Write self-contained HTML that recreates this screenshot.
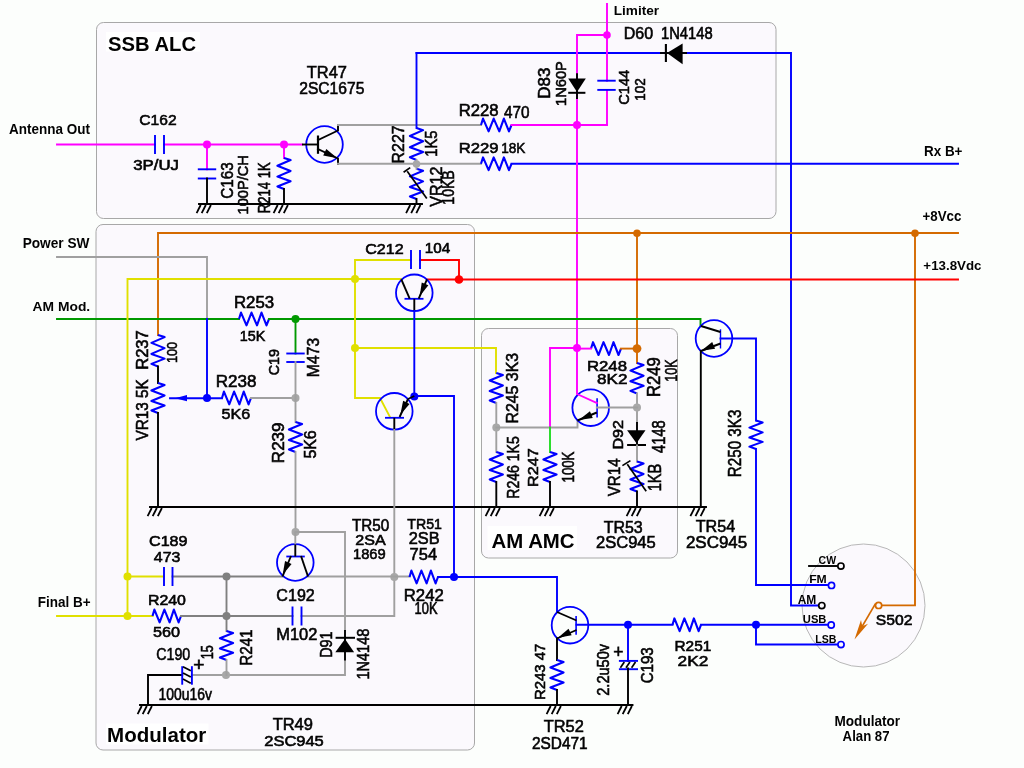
<!DOCTYPE html>
<html><head><meta charset="utf-8"><title>Modulator schematic</title>
<style>html,body{margin:0;padding:0;background:#fcfefc;overflow:hidden}svg{display:block}text{font-family:"Liberation Sans",sans-serif}</style></head>
<body><svg width="1024" height="768" viewBox="0 0 1024 768">
<rect width="1024" height="768" fill="#fcfefc"/>
<rect x="96.5" y="22.5" width="679.5" height="196" rx="7" fill="#fbf9fd" stroke="#a8a8a8" stroke-width="1"/>
<rect x="96" y="224.5" width="378.5" height="525.5" rx="7" fill="#fbf9fd" stroke="#a8a8a8" stroke-width="1"/>
<rect x="481.5" y="328.5" width="196" height="229.5" rx="7" fill="#fbf9fd" stroke="#a8a8a8" stroke-width="1"/>
<circle cx="863.5" cy="605.5" r="61.5" fill="#fbf9fd" stroke="#b8b8b8" stroke-width="1"/>
<rect x="106" y="32" width="94" height="19.5" fill="#ffffff"/>
<rect x="487.5" y="526" width="89.5" height="24" fill="#ffffff"/>
<rect x="106" y="723.5" width="102.5" height="21" fill="#ffffff"/>
<g><polyline points="57,144.5 155,144.5" fill="none" stroke="#ff00ff" stroke-width="1.9" stroke-linejoin="miter" stroke-linecap="square"/>
<polyline points="164,144.5 302,144.5" fill="none" stroke="#ff00ff" stroke-width="1.9" stroke-linejoin="miter" stroke-linecap="square"/>
<line x1="155" y1="135.0" x2="155" y2="154.0" stroke="#0000ff" stroke-width="1.9" stroke-linecap="butt"/>
<line x1="164" y1="135.0" x2="164" y2="154.0" stroke="#0000ff" stroke-width="1.9" stroke-linecap="butt"/>
<polyline points="207,144.5 207,169.3" fill="none" stroke="#ff00ff" stroke-width="1.9" stroke-linejoin="miter" stroke-linecap="square"/>
<line x1="197.8" y1="169.3" x2="216.2" y2="169.3" stroke="#0000ff" stroke-width="1.9" stroke-linecap="butt"/>
<line x1="197.8" y1="178.5" x2="216.2" y2="178.5" stroke="#0000ff" stroke-width="1.9" stroke-linecap="butt"/>
<polyline points="207,178.5 207,204" fill="none" stroke="#000000" stroke-width="1.9" stroke-linejoin="miter" stroke-linecap="square"/>
<polyline points="284,144.5 284,158" fill="none" stroke="#ff00ff" stroke-width="1.9" stroke-linejoin="miter" stroke-linecap="square"/>
<polyline points="284.00,158.00 290.60,160.07 277.40,165.75 290.60,170.92 277.40,176.60 290.60,181.25 277.40,186.42 284.00,189.00" fill="none" stroke="#0000ff" stroke-width="2.1" stroke-linejoin="round" stroke-linecap="butt"/>
<polyline points="284,189 284,204" fill="none" stroke="#000000" stroke-width="1.9" stroke-linejoin="miter" stroke-linecap="square"/>
<circle cx="207" cy="144.5" r="4" fill="#ff00ff"/>
<circle cx="284" cy="144.5" r="4" fill="#ff00ff"/>
<polyline points="199,204 422,204" fill="none" stroke="#000000" stroke-width="1.9" stroke-linejoin="miter" stroke-linecap="square"/>
<line x1="196.6" y1="213.2" x2="200.7" y2="205" stroke="#000000" stroke-width="1.8" stroke-linecap="butt"/>
<line x1="201.7" y1="213.2" x2="205.79999999999998" y2="205" stroke="#000000" stroke-width="1.8" stroke-linecap="butt"/>
<line x1="206.79999999999998" y1="213.2" x2="210.89999999999998" y2="205" stroke="#000000" stroke-width="1.8" stroke-linecap="butt"/>
<line x1="273.6" y1="213.2" x2="277.7" y2="205" stroke="#000000" stroke-width="1.8" stroke-linecap="butt"/>
<line x1="278.70000000000005" y1="213.2" x2="282.8" y2="205" stroke="#000000" stroke-width="1.8" stroke-linecap="butt"/>
<line x1="283.8" y1="213.2" x2="287.9" y2="205" stroke="#000000" stroke-width="1.8" stroke-linecap="butt"/>
<line x1="406.1" y1="213.2" x2="410.2" y2="205" stroke="#000000" stroke-width="1.8" stroke-linecap="butt"/>
<line x1="411.20000000000005" y1="213.2" x2="415.3" y2="205" stroke="#000000" stroke-width="1.8" stroke-linecap="butt"/>
<line x1="416.3" y1="213.2" x2="420.4" y2="205" stroke="#000000" stroke-width="1.8" stroke-linecap="butt"/>
<circle cx="324.5" cy="144.5" r="18.3" fill="none" stroke="#0000ff" stroke-width="1.8"/>
<line x1="302" y1="144.5" x2="318" y2="144.5" stroke="#000000" stroke-width="1.9" stroke-linecap="butt"/>
<line x1="318" y1="135.5" x2="318" y2="153.8" stroke="#000000" stroke-width="2.2" stroke-linecap="butt"/>
<polyline points="318,140 338,130.5 338,125" fill="none" stroke="#000000" stroke-width="1.9" stroke-linejoin="miter" stroke-linecap="square"/>
<polyline points="318,149 338,158.5 338,163.8" fill="none" stroke="#000000" stroke-width="1.9" stroke-linejoin="miter" stroke-linecap="square"/>
<polygon points="337.4,158.215 323.2095104065941,155.4600036117194 326.29871947148575,148.95640558036854" fill="#000000"/>
<polyline points="338,125 481,125" fill="none" stroke="#a0a0a0" stroke-width="1.9" stroke-linejoin="miter" stroke-linecap="square"/>
<polyline points="338,163.8 481,163.8" fill="none" stroke="#a0a0a0" stroke-width="1.9" stroke-linejoin="miter" stroke-linecap="square"/>
<polyline points="481.00,125.00 483.03,118.60 488.62,131.40 493.71,118.60 499.30,131.40 503.88,118.60 508.96,131.40 511.50,125.00" fill="none" stroke="#0000ff" stroke-width="2.1" stroke-linejoin="round" stroke-linecap="butt"/>
<polyline points="481.00,163.80 483.03,157.40 488.62,170.20 493.71,157.40 499.30,170.20 503.88,157.40 508.96,170.20 511.50,163.80" fill="none" stroke="#0000ff" stroke-width="2.1" stroke-linejoin="round" stroke-linecap="butt"/>
<polyline points="511.5,125 607,125" fill="none" stroke="#ff00ff" stroke-width="1.9" stroke-linejoin="miter" stroke-linecap="square"/>
<polyline points="511.5,163.8 958,163.8" fill="none" stroke="#0000ff" stroke-width="1.9" stroke-linejoin="miter" stroke-linecap="square"/>
<polyline points="416.5,53 416.5,128" fill="none" stroke="#0000ff" stroke-width="1.9" stroke-linejoin="miter" stroke-linecap="square"/>
<polyline points="416.50,128.00 423.10,130.13 409.90,136.00 423.10,141.33 409.90,147.20 423.10,152.00 409.90,157.33 416.50,160.00" fill="none" stroke="#0000ff" stroke-width="2.1" stroke-linejoin="round" stroke-linecap="butt"/>
<polyline points="416.5,160 416.5,164" fill="none" stroke="#a0a0a0" stroke-width="1.9" stroke-linejoin="miter" stroke-linecap="square"/>
<polyline points="416.50,168.80 423.10,170.81 409.90,176.35 423.10,181.38 409.90,186.92 423.10,191.45 409.90,196.48 416.50,199.00" fill="none" stroke="#0000ff" stroke-width="2.1" stroke-linejoin="round" stroke-linecap="butt"/>
<polyline points="416.5,164 416.5,168.8" fill="none" stroke="#a0a0a0" stroke-width="1.9" stroke-linejoin="miter" stroke-linecap="square"/>
<polyline points="416.5,199 416.5,204" fill="none" stroke="#000000" stroke-width="1.9" stroke-linejoin="miter" stroke-linecap="square"/>
<line x1="426.8" y1="198.4" x2="407.2" y2="171.3" stroke="#000000" stroke-width="1.7" stroke-linecap="butt"/>
<line x1="403.6" y1="172.2" x2="410.2" y2="167.6" stroke="#000000" stroke-width="1.7" stroke-linecap="butt"/>
<circle cx="416.5" cy="164" r="3.8" fill="#a8a8a8"/>
<polyline points="416.5,53 791,53 791,605.5 818,605.5" fill="none" stroke="#0000ff" stroke-width="1.9" stroke-linejoin="miter" stroke-linecap="square"/>
<polygon points="667,53 682.6,43.6 682.6,64.2" fill="#000"/>
<line x1="665.9" y1="44" x2="665.9" y2="62" stroke="#000000" stroke-width="2.1" stroke-linecap="butt"/>
<line x1="660" y1="53" x2="687" y2="53" stroke="#000000" stroke-width="1.9" stroke-linecap="butt"/>
<polyline points="607,4 607,80.7" fill="none" stroke="#ff00ff" stroke-width="1.9" stroke-linejoin="miter" stroke-linecap="square"/>
<polyline points="607,89.9 607,125" fill="none" stroke="#ff00ff" stroke-width="1.9" stroke-linejoin="miter" stroke-linecap="square"/>
<line x1="597.3" y1="80.7" x2="615.7" y2="80.7" stroke="#0000ff" stroke-width="1.9" stroke-linecap="butt"/>
<line x1="597.3" y1="89.9" x2="615.7" y2="89.9" stroke="#0000ff" stroke-width="1.9" stroke-linecap="butt"/>
<polyline points="577,125 577,35 607,35" fill="none" stroke="#ff00ff" stroke-width="1.9" stroke-linejoin="miter" stroke-linecap="square"/>
<polyline points="577,125 577,348" fill="none" stroke="#ff00ff" stroke-width="1.9" stroke-linejoin="miter" stroke-linecap="square"/>
<circle cx="607" cy="35" r="3.8" fill="#ff00ff"/>
<circle cx="577" cy="125" r="4" fill="#ff00ff"/>
<line x1="577" y1="73.3" x2="577" y2="99" stroke="#000000" stroke-width="1.9" stroke-linecap="butt"/>
<polygon points="568.2,78.4 585.8,78.4 577,92" fill="#000"/>
<line x1="568.2" y1="92.8" x2="585.4" y2="92.8" stroke="#000000" stroke-width="2" stroke-linecap="butt"/>
<polyline points="158,335 158,233 958,233" fill="none" stroke="#d46a00" stroke-width="1.9" stroke-linejoin="miter" stroke-linecap="square"/>
<circle cx="915" cy="233.3" r="3.8" fill="#d46a00"/>
<circle cx="637" cy="233.3" r="3.8" fill="#d46a00"/>
<polyline points="915,233 915,605.4 881.7,605.4" fill="none" stroke="#d46a00" stroke-width="1.9" stroke-linejoin="miter" stroke-linecap="square"/>
<polyline points="637,233 637,363" fill="none" stroke="#d46a00" stroke-width="1.9" stroke-linejoin="miter" stroke-linecap="square"/>
<polyline points="427,279.5 958,279.5" fill="none" stroke="#ff0000" stroke-width="1.9" stroke-linejoin="miter" stroke-linecap="square"/>
<polyline points="420,260 459,260 459,279.5" fill="none" stroke="#ff0000" stroke-width="1.9" stroke-linejoin="miter" stroke-linecap="square"/>
<circle cx="459" cy="279.5" r="4.3" fill="#ff0000"/>
<polyline points="57,319 239,319" fill="none" stroke="#009900" stroke-width="1.9" stroke-linejoin="miter" stroke-linecap="square"/>
<polyline points="239.00,319.00 241.00,312.60 246.50,325.40 251.50,312.60 257.00,325.40 261.50,312.60 266.50,325.40 269.00,319.00" fill="none" stroke="#0000ff" stroke-width="2.1" stroke-linejoin="round" stroke-linecap="butt"/>
<polyline points="269,319 700.5,319 700.5,326" fill="none" stroke="#009900" stroke-width="1.9" stroke-linejoin="miter" stroke-linecap="square"/>
<circle cx="295.5" cy="319" r="4" fill="#009900"/>
<polyline points="295.5,319 295.5,353.5" fill="none" stroke="#009900" stroke-width="1.9" stroke-linejoin="miter" stroke-linecap="square"/>
<line x1="286.3" y1="353.5" x2="304.7" y2="353.5" stroke="#0000ff" stroke-width="1.9" stroke-linecap="butt"/>
<line x1="286.3" y1="362" x2="304.7" y2="362" stroke="#0000ff" stroke-width="1.9" stroke-linecap="butt"/>
<polyline points="57,257 207,257 207,319" fill="none" stroke="#a0a0a0" stroke-width="1.9" stroke-linejoin="miter" stroke-linecap="square"/>
<polyline points="57,616 152.5,616" fill="none" stroke="#e0e000" stroke-width="1.9" stroke-linejoin="miter" stroke-linecap="square"/>
<polyline points="127.5,616 127.5,279 401,279" fill="none" stroke="#e0e000" stroke-width="1.9" stroke-linejoin="miter" stroke-linecap="square"/>
<polyline points="127.5,576.5 164,576.5" fill="none" stroke="#e0e000" stroke-width="1.9" stroke-linejoin="miter" stroke-linecap="square"/>
<circle cx="127.5" cy="576.5" r="4" fill="#e0e000"/>
<circle cx="127.5" cy="616" r="4" fill="#e0e000"/>
<polyline points="411,260 355,260 355,398 380,398 390,417" fill="none" stroke="#e0e000" stroke-width="1.9" stroke-linejoin="miter" stroke-linecap="square"/>
<circle cx="355" cy="279" r="4" fill="#e0e000"/>
<circle cx="355" cy="348" r="4" fill="#e0e000"/>
<polyline points="355,348 496,348 496,373" fill="none" stroke="#e0e000" stroke-width="1.9" stroke-linejoin="miter" stroke-linecap="square"/>
<line x1="411" y1="250.0" x2="411" y2="269.0" stroke="#0000ff" stroke-width="1.9" stroke-linecap="butt"/>
<line x1="420" y1="250.0" x2="420" y2="269.0" stroke="#0000ff" stroke-width="1.9" stroke-linecap="butt"/>
<polyline points="158.00,335.00 164.60,337.10 151.40,342.88 164.60,348.12 151.40,353.90 164.60,358.62 151.40,363.88 158.00,366.50" fill="none" stroke="#0000ff" stroke-width="2.1" stroke-linejoin="round" stroke-linecap="butt"/>
<polyline points="158,366.5 158,383" fill="none" stroke="#000000" stroke-width="1.9" stroke-linejoin="miter" stroke-linecap="square"/>
<polyline points="158.00,383.00 164.60,385.00 151.40,390.50 164.60,395.50 151.40,401.00 164.60,405.50 151.40,410.50 158.00,413.00" fill="none" stroke="#0000ff" stroke-width="2.1" stroke-linejoin="round" stroke-linecap="butt"/>
<polyline points="158,413 158,507" fill="none" stroke="#000000" stroke-width="1.9" stroke-linejoin="miter" stroke-linecap="square"/>
<polyline points="207,319 207,398" fill="none" stroke="#0000ff" stroke-width="1.9" stroke-linejoin="miter" stroke-linecap="square"/>
<polyline points="170,398.2 222,398.2" fill="none" stroke="#0000ff" stroke-width="1.9" stroke-linejoin="miter" stroke-linecap="square"/>
<polygon points="175.0,398.2 187.0,395.09999999999997 187.0,401.3" fill="#0000ff"/>
<circle cx="207" cy="398" r="4" fill="#0000ff"/>
<polyline points="222.00,398.00 223.93,391.60 229.25,404.40 234.08,391.60 239.40,404.40 243.75,391.60 248.58,404.40 251.00,398.00" fill="none" stroke="#0000ff" stroke-width="2.1" stroke-linejoin="round" stroke-linecap="butt"/>
<polyline points="251,398 295.5,398" fill="none" stroke="#a0a0a0" stroke-width="1.9" stroke-linejoin="miter" stroke-linecap="square"/>
<circle cx="295.5" cy="398" r="4" fill="#a8a8a8"/>
<polyline points="295.5,362 295.5,422" fill="none" stroke="#a0a0a0" stroke-width="1.9" stroke-linejoin="miter" stroke-linecap="square"/>
<polyline points="295.50,422.00 302.10,424.00 288.90,429.50 302.10,434.50 288.90,440.00 302.10,444.50 288.90,449.50 295.50,452.00" fill="none" stroke="#0000ff" stroke-width="2.1" stroke-linejoin="round" stroke-linecap="butt"/>
<polyline points="295.5,452 295.5,532" fill="none" stroke="#a0a0a0" stroke-width="1.9" stroke-linejoin="miter" stroke-linecap="square"/>
<circle cx="295.5" cy="532" r="4" fill="#a8a8a8"/>
<polyline points="295.5,532 345,532 345,630" fill="none" stroke="#a0a0a0" stroke-width="1.9" stroke-linejoin="miter" stroke-linecap="square"/>
<polyline points="345,660.5 345,675 191.9,675" fill="none" stroke="#a0a0a0" stroke-width="1.9" stroke-linejoin="miter" stroke-linecap="square"/>
<circle cx="226" cy="675" r="4" fill="#a8a8a8"/>
<polyline points="150,507 706,507" fill="none" stroke="#000000" stroke-width="1.9" stroke-linejoin="miter" stroke-linecap="square"/>
<line x1="147.6" y1="516.2" x2="151.7" y2="508" stroke="#000000" stroke-width="1.8" stroke-linecap="butt"/>
<line x1="152.7" y1="516.2" x2="156.79999999999998" y2="508" stroke="#000000" stroke-width="1.8" stroke-linecap="butt"/>
<line x1="157.79999999999998" y1="516.2" x2="161.89999999999998" y2="508" stroke="#000000" stroke-width="1.8" stroke-linecap="butt"/>
<line x1="485.6" y1="516.2" x2="489.7" y2="508" stroke="#000000" stroke-width="1.8" stroke-linecap="butt"/>
<line x1="490.70000000000005" y1="516.2" x2="494.8" y2="508" stroke="#000000" stroke-width="1.8" stroke-linecap="butt"/>
<line x1="495.8" y1="516.2" x2="499.9" y2="508" stroke="#000000" stroke-width="1.8" stroke-linecap="butt"/>
<line x1="539.6" y1="516.2" x2="543.7" y2="508" stroke="#000000" stroke-width="1.8" stroke-linecap="butt"/>
<line x1="544.7" y1="516.2" x2="548.8000000000001" y2="508" stroke="#000000" stroke-width="1.8" stroke-linecap="butt"/>
<line x1="549.8000000000001" y1="516.2" x2="553.9000000000001" y2="508" stroke="#000000" stroke-width="1.8" stroke-linecap="butt"/>
<line x1="626.6" y1="516.2" x2="630.7" y2="508" stroke="#000000" stroke-width="1.8" stroke-linecap="butt"/>
<line x1="631.7" y1="516.2" x2="635.8000000000001" y2="508" stroke="#000000" stroke-width="1.8" stroke-linecap="butt"/>
<line x1="636.8000000000001" y1="516.2" x2="640.9000000000001" y2="508" stroke="#000000" stroke-width="1.8" stroke-linecap="butt"/>
<line x1="690.4" y1="516.2" x2="694.5" y2="508" stroke="#000000" stroke-width="1.8" stroke-linecap="butt"/>
<line x1="695.5" y1="516.2" x2="699.6" y2="508" stroke="#000000" stroke-width="1.8" stroke-linecap="butt"/>
<line x1="700.6" y1="516.2" x2="704.7" y2="508" stroke="#000000" stroke-width="1.8" stroke-linecap="butt"/>
<circle cx="414.3" cy="292.8" r="18.3" fill="none" stroke="#0000ff" stroke-width="1.8"/>
<line x1="404.5" y1="298.8" x2="423.5" y2="298.8" stroke="#0000ff" stroke-width="1.8" stroke-linecap="butt"/>
<line x1="409.7" y1="298.6" x2="401.3" y2="279.4" stroke="#000000" stroke-width="1.9" stroke-linecap="butt"/>
<line x1="418.7" y1="298.6" x2="427" y2="279.4" stroke="#000000" stroke-width="1.9" stroke-linecap="butt"/>
<polygon points="419.69599999999997,296.296 421.74837620197115,282.4758063716321 428.357285732847,285.33278288758356" fill="#000000"/>
<line x1="414.3" y1="298.8" x2="414.3" y2="311" stroke="#000000" stroke-width="1.9" stroke-linecap="butt"/>
<polyline points="414.3,311 414.3,396 454,396 454,577" fill="none" stroke="#0000ff" stroke-width="1.9" stroke-linejoin="miter" stroke-linecap="square"/>
<circle cx="414.3" cy="396.5" r="4" fill="#0000ff"/>
<circle cx="394.3" cy="411.3" r="18.3" fill="none" stroke="#0000ff" stroke-width="1.8"/>
<line x1="385" y1="417.8" x2="404" y2="417.8" stroke="#0000ff" stroke-width="1.8" stroke-linecap="butt"/>
<line x1="399.6" y1="417" x2="408" y2="399" stroke="#000000" stroke-width="1.9" stroke-linecap="butt"/>
<line x1="408" y1="399" x2="414.3" y2="396" stroke="#000000" stroke-width="1.9" stroke-linecap="butt"/>
<polygon points="400.44,414.57 403.09814111898953,400.8534302469044 409.5750201835696,403.9982732609202" fill="#000000"/>
<line x1="394.3" y1="417.8" x2="394.3" y2="430" stroke="#000000" stroke-width="1.9" stroke-linecap="butt"/>
<polyline points="394.3,430 394.3,616 301.5,616" fill="none" stroke="#a0a0a0" stroke-width="1.9" stroke-linejoin="miter" stroke-linecap="square"/>
<circle cx="394.3" cy="577" r="4" fill="#a8a8a8"/>
<polyline points="172.5,576.5 282.5,576.5" fill="none" stroke="#808080" stroke-width="1.9" stroke-linejoin="miter" stroke-linecap="square"/>
<polyline points="308,576.5 409.5,576.5" fill="none" stroke="#a0a0a0" stroke-width="1.9" stroke-linejoin="miter" stroke-linecap="square"/>
<line x1="164" y1="567.0" x2="164" y2="586.0" stroke="#0000ff" stroke-width="1.9" stroke-linecap="butt"/>
<line x1="172.5" y1="567.0" x2="172.5" y2="586.0" stroke="#0000ff" stroke-width="1.9" stroke-linecap="butt"/>
<polyline points="152.50,616.00 154.40,609.60 159.62,622.40 164.38,609.60 169.60,622.40 173.88,609.60 178.62,622.40 181.00,616.00" fill="none" stroke="#0000ff" stroke-width="2.1" stroke-linejoin="round" stroke-linecap="butt"/>
<polyline points="181,616 292.5,616" fill="none" stroke="#808080" stroke-width="1.9" stroke-linejoin="miter" stroke-linecap="square"/>
<line x1="292.5" y1="606.5" x2="292.5" y2="625.5" stroke="#0000ff" stroke-width="1.9" stroke-linecap="butt"/>
<line x1="301.5" y1="606.5" x2="301.5" y2="625.5" stroke="#0000ff" stroke-width="1.9" stroke-linecap="butt"/>
<circle cx="226.5" cy="576.5" r="4" fill="#808080"/>
<circle cx="226.5" cy="616" r="4" fill="#808080"/>
<polyline points="226.5,576.5 226.5,631" fill="none" stroke="#808080" stroke-width="1.9" stroke-linejoin="miter" stroke-linecap="square"/>
<polyline points="226.50,631.00 233.10,632.93 219.90,638.25 233.10,643.08 219.90,648.40 233.10,652.75 219.90,657.58 226.50,660.00" fill="none" stroke="#0000ff" stroke-width="2.1" stroke-linejoin="round" stroke-linecap="butt"/>
<polyline points="226.5,660 226.5,675" fill="none" stroke="#a0a0a0" stroke-width="1.9" stroke-linejoin="miter" stroke-linecap="square"/>
<circle cx="295.3" cy="562.5" r="18.3" fill="none" stroke="#0000ff" stroke-width="1.8"/>
<line x1="286.3" y1="556.5" x2="304.8" y2="556.5" stroke="#0000ff" stroke-width="1.8" stroke-linecap="butt"/>
<line x1="291" y1="556" x2="282.5" y2="576.5" stroke="#000000" stroke-width="1.9" stroke-linecap="butt"/>
<polygon points="282.652,574.8539999999999 285.040631611532,561.0879388703815 291.5779391799352,564.1051577481062" fill="#000000"/>
<line x1="301" y1="556" x2="308" y2="576.5" stroke="#000000" stroke-width="1.9" stroke-linecap="butt"/>
<line x1="295.3" y1="532" x2="295.3" y2="544.5" stroke="#a0a0a0" stroke-width="1.9" stroke-linecap="butt"/>
<line x1="295.3" y1="544.5" x2="295.3" y2="556.5" stroke="#000000" stroke-width="1.9" stroke-linecap="butt"/>
<polygon points="335.3,652.3 354.1,652.3 345,639.1" fill="#000"/>
<line x1="335.6" y1="637.8" x2="355" y2="637.8" stroke="#000000" stroke-width="2" stroke-linecap="butt"/>
<line x1="345" y1="630" x2="345" y2="660.5" stroke="#000000" stroke-width="1.9" stroke-linecap="butt"/>
<polyline points="409.50,577.00 411.40,570.60 416.62,583.40 421.38,570.60 426.60,583.40 430.88,570.60 435.62,583.40 438.00,577.00" fill="none" stroke="#0000ff" stroke-width="2.1" stroke-linejoin="round" stroke-linecap="butt"/>
<polyline points="438,577 557,577 557,611" fill="none" stroke="#0000ff" stroke-width="1.9" stroke-linejoin="miter" stroke-linecap="square"/>
<circle cx="454" cy="577" r="4" fill="#0000ff"/>
<polyline points="148,705 148,675 182.2,675" fill="none" stroke="#000000" stroke-width="1.9" stroke-linejoin="miter" stroke-linecap="square"/>
<line x1="182.2" y1="666.2" x2="182.2" y2="684.7" stroke="#0000ff" stroke-width="1.9" stroke-linecap="butt"/>
<line x1="191.9" y1="666.2" x2="191.9" y2="684.7" stroke="#0000ff" stroke-width="1.9" stroke-linecap="butt"/>
<line x1="183" y1="666.7" x2="190.8" y2="670.8" stroke="#000000" stroke-width="1.7" stroke-linecap="butt"/>
<line x1="183" y1="672.9000000000001" x2="190.8" y2="677.0" stroke="#000000" stroke-width="1.7" stroke-linecap="butt"/>
<line x1="183" y1="679.1" x2="190.8" y2="683.1999999999999" stroke="#000000" stroke-width="1.7" stroke-linecap="butt"/>
<polyline points="140,705 632.5,705" fill="none" stroke="#000000" stroke-width="1.9" stroke-linejoin="miter" stroke-linecap="square"/>
<line x1="137.6" y1="714.2" x2="141.7" y2="706" stroke="#000000" stroke-width="1.8" stroke-linecap="butt"/>
<line x1="142.7" y1="714.2" x2="146.79999999999998" y2="706" stroke="#000000" stroke-width="1.8" stroke-linecap="butt"/>
<line x1="147.79999999999998" y1="714.2" x2="151.89999999999998" y2="706" stroke="#000000" stroke-width="1.8" stroke-linecap="butt"/>
<line x1="546.6" y1="714.2" x2="550.7" y2="706" stroke="#000000" stroke-width="1.8" stroke-linecap="butt"/>
<line x1="551.7" y1="714.2" x2="555.8000000000001" y2="706" stroke="#000000" stroke-width="1.8" stroke-linecap="butt"/>
<line x1="556.8000000000001" y1="714.2" x2="560.9000000000001" y2="706" stroke="#000000" stroke-width="1.8" stroke-linecap="butt"/>
<line x1="617.6" y1="714.2" x2="621.7" y2="706" stroke="#000000" stroke-width="1.8" stroke-linecap="butt"/>
<line x1="622.7" y1="714.2" x2="626.8000000000001" y2="706" stroke="#000000" stroke-width="1.8" stroke-linecap="butt"/>
<line x1="627.8000000000001" y1="714.2" x2="631.9000000000001" y2="706" stroke="#000000" stroke-width="1.8" stroke-linecap="butt"/>
<polyline points="496.30,373.00 502.90,375.00 489.70,380.50 502.90,385.50 489.70,391.00 502.90,395.50 489.70,400.50 496.30,403.00" fill="none" stroke="#0000ff" stroke-width="2.1" stroke-linejoin="round" stroke-linecap="butt"/>
<polyline points="496.3,403 496.3,452" fill="none" stroke="#a0a0a0" stroke-width="1.9" stroke-linejoin="miter" stroke-linecap="square"/>
<circle cx="496.3" cy="427.5" r="4" fill="#a8a8a8"/>
<polyline points="496.30,452.00 502.90,454.00 489.70,459.50 502.90,464.50 489.70,470.00 502.90,474.50 489.70,479.50 496.30,482.00" fill="none" stroke="#0000ff" stroke-width="2.1" stroke-linejoin="round" stroke-linecap="butt"/>
<polyline points="496.3,482 496.3,507" fill="none" stroke="#000000" stroke-width="1.9" stroke-linejoin="miter" stroke-linecap="square"/>
<polyline points="496.3,427.5 577.5,427.5 577.5,420.5" fill="none" stroke="#a0a0a0" stroke-width="1.9" stroke-linejoin="miter" stroke-linecap="square"/>
<polyline points="577,348 550,348 550,427.5" fill="none" stroke="#ff00ff" stroke-width="1.9" stroke-linejoin="miter" stroke-linecap="square"/>
<polyline points="550,427.5 550,452" fill="none" stroke="#22dd22" stroke-width="1.9" stroke-linejoin="miter" stroke-linecap="square"/>
<polyline points="550.00,452.00 556.60,454.00 543.40,459.50 556.60,464.50 543.40,470.00 556.60,474.50 543.40,479.50 550.00,482.00" fill="none" stroke="#0000ff" stroke-width="2.1" stroke-linejoin="round" stroke-linecap="butt"/>
<polyline points="550,482 550,507" fill="none" stroke="#000000" stroke-width="1.9" stroke-linejoin="miter" stroke-linecap="square"/>
<circle cx="577" cy="348" r="4" fill="#ff00ff"/>
<polyline points="591.00,348.60 593.00,342.20 598.50,355.00 603.50,342.20 609.00,355.00 613.50,342.20 618.50,355.00 621.00,348.60" fill="none" stroke="#0000ff" stroke-width="2.1" stroke-linejoin="round" stroke-linecap="butt"/>
<polyline points="577,348.6 591,348.6" fill="none" stroke="#ff00ff" stroke-width="1.9" stroke-linejoin="miter" stroke-linecap="square"/>
<polyline points="621,348.6 637,348.6" fill="none" stroke="#d46a00" stroke-width="1.9" stroke-linejoin="miter" stroke-linecap="square"/>
<circle cx="637" cy="348.6" r="4.4" fill="#d46a00"/>
<polyline points="637.00,363.00 643.60,365.03 630.40,370.60 643.60,375.67 630.40,381.24 643.60,385.80 630.40,390.87 637.00,393.40" fill="none" stroke="#0000ff" stroke-width="2.1" stroke-linejoin="round" stroke-linecap="butt"/>
<polyline points="637,393.4 637,422" fill="none" stroke="#a0a0a0" stroke-width="1.9" stroke-linejoin="miter" stroke-linecap="square"/>
<circle cx="637" cy="407.5" r="4" fill="#a8a8a8"/>
<circle cx="590.7" cy="407.7" r="18.3" fill="none" stroke="#0000ff" stroke-width="1.8"/>
<line x1="597.1" y1="398.3" x2="597.1" y2="417.5" stroke="#0000ff" stroke-width="1.6" stroke-linecap="butt"/>
<polyline points="577,348 577,394 596.8,403" fill="none" stroke="#ff00ff" stroke-width="1.9" stroke-linejoin="miter" stroke-linecap="square"/>
<line x1="596.8" y1="412.5" x2="577.5" y2="420.5" stroke="#000000" stroke-width="1.9" stroke-linecap="butt"/>
<polygon points="578.928,419.875 589.9360879629969,411.27081500670033 592.7586746201755,417.89448502887967" fill="#000000"/>
<polyline points="596.8,407.5 637,407.5" fill="none" stroke="#a0a0a0" stroke-width="1.9" stroke-linejoin="miter" stroke-linecap="square"/>
<polygon points="627.1,430.3 645.5,430.3 636.5,443.2" fill="#000"/>
<line x1="627.1" y1="445" x2="646" y2="445" stroke="#000000" stroke-width="2" stroke-linecap="butt"/>
<line x1="637" y1="422" x2="637" y2="445" stroke="#000000" stroke-width="1.9" stroke-linecap="butt"/>
<polyline points="637,445.5 637,461.5" fill="none" stroke="#a0a0a0" stroke-width="1.9" stroke-linejoin="miter" stroke-linecap="square"/>
<polyline points="637.00,461.50 643.60,463.50 630.40,469.00 643.60,474.00 630.40,479.50 643.60,484.00 630.40,489.00 637.00,491.50" fill="none" stroke="#0000ff" stroke-width="2.1" stroke-linejoin="round" stroke-linecap="butt"/>
<polyline points="637,491.5 637,507" fill="none" stroke="#000000" stroke-width="1.9" stroke-linejoin="miter" stroke-linecap="square"/>
<line x1="646.2" y1="491.2" x2="627.3" y2="464.2" stroke="#000000" stroke-width="1.7" stroke-linecap="butt"/>
<line x1="622.4" y1="465.6" x2="630.4" y2="460.6" stroke="#000000" stroke-width="1.7" stroke-linecap="butt"/>
<circle cx="714" cy="338.5" r="18.3" fill="none" stroke="#0000ff" stroke-width="1.8"/>
<line x1="720.5" y1="329.3" x2="720.5" y2="348.5" stroke="#0000ff" stroke-width="1.4" stroke-linecap="butt"/>
<line x1="720.5" y1="332" x2="701" y2="326" stroke="#000000" stroke-width="1.9" stroke-linecap="butt"/>
<line x1="720.5" y1="343.5" x2="701" y2="351" stroke="#000000" stroke-width="1.9" stroke-linecap="butt"/>
<polygon points="701.279,350.845 712.1828612880022,342.109108001354 715.084867423361,348.69836899105087" fill="#000000"/>
<polyline points="700.8,351 700.8,507" fill="none" stroke="#000000" stroke-width="1.9" stroke-linejoin="miter" stroke-linecap="square"/>
<polyline points="720.5,338.5 756,338.5 756,420.5" fill="none" stroke="#0000ff" stroke-width="1.9" stroke-linejoin="miter" stroke-linecap="square"/>
<polyline points="756.00,420.50 762.60,422.40 749.40,427.62 762.60,432.38 749.40,437.60 762.60,441.88 749.40,446.62 756.00,449.00" fill="none" stroke="#0000ff" stroke-width="2.1" stroke-linejoin="round" stroke-linecap="butt"/>
<polyline points="756,449 756,585 827,585" fill="none" stroke="#0000ff" stroke-width="1.9" stroke-linejoin="miter" stroke-linecap="square"/>
<circle cx="570" cy="625.2" r="18.3" fill="none" stroke="#0000ff" stroke-width="1.8"/>
<line x1="576.1" y1="616" x2="576.1" y2="634.8" stroke="#0000ff" stroke-width="1.6" stroke-linecap="butt"/>
<line x1="576.5" y1="620.5" x2="557" y2="612" stroke="#000000" stroke-width="1.9" stroke-linecap="butt"/>
<line x1="576.5" y1="630" x2="557" y2="638.5" stroke="#000000" stroke-width="1.9" stroke-linecap="butt"/>
<polygon points="557.928,637.845 568.5189027355266,628.7322189071274 571.6501261529866,635.2156932773976" fill="#000000"/>
<polyline points="557,638.5 557,660" fill="none" stroke="#000000" stroke-width="1.9" stroke-linejoin="miter" stroke-linecap="square"/>
<polyline points="557.00,660.00 563.60,662.00 550.40,667.50 563.60,672.50 550.40,678.00 563.60,682.50 550.40,687.50 557.00,690.00" fill="none" stroke="#0000ff" stroke-width="2.1" stroke-linejoin="round" stroke-linecap="butt"/>
<polyline points="557,690 557,705" fill="none" stroke="#000000" stroke-width="1.9" stroke-linejoin="miter" stroke-linecap="square"/>
<polyline points="576.5,624.8 672.5,624.8" fill="none" stroke="#0000ff" stroke-width="1.9" stroke-linejoin="miter" stroke-linecap="square"/>
<polyline points="672.50,624.80 674.40,618.40 679.62,631.20 684.38,618.40 689.60,631.20 693.88,618.40 698.62,631.20 701.00,624.80" fill="none" stroke="#0000ff" stroke-width="2.1" stroke-linejoin="round" stroke-linecap="butt"/>
<polyline points="701,624.8 827,624.8" fill="none" stroke="#0000ff" stroke-width="1.9" stroke-linejoin="miter" stroke-linecap="square"/>
<circle cx="628" cy="624.8" r="4" fill="#0000ff"/>
<circle cx="756" cy="624.8" r="4" fill="#0000ff"/>
<polyline points="628,624.8 628,661" fill="none" stroke="#0000ff" stroke-width="1.9" stroke-linejoin="miter" stroke-linecap="square"/>
<line x1="618.9" y1="660.9" x2="638" y2="660.9" stroke="#0000ff" stroke-width="1.9" stroke-linecap="butt"/>
<line x1="618.9" y1="669.2" x2="638" y2="669.2" stroke="#0000ff" stroke-width="1.9" stroke-linecap="butt"/>
<line x1="620.4" y1="667.8" x2="624.3" y2="662" stroke="#000000" stroke-width="1.7" stroke-linecap="butt"/>
<line x1="626.0" y1="667.8" x2="629.9" y2="662" stroke="#000000" stroke-width="1.7" stroke-linecap="butt"/>
<line x1="631.6" y1="667.8" x2="635.5" y2="662" stroke="#000000" stroke-width="1.7" stroke-linecap="butt"/>
<polyline points="628,668.5 628,705" fill="none" stroke="#000000" stroke-width="1.9" stroke-linejoin="miter" stroke-linecap="square"/>
<polyline points="756,624.8 756,644.5 837,644.5" fill="none" stroke="#0000ff" stroke-width="1.9" stroke-linejoin="miter" stroke-linecap="square"/>
<line x1="808.1" y1="566" x2="837.5" y2="566" stroke="#000000" stroke-width="1.9" stroke-linecap="butt"/>
<circle cx="840.9" cy="566.1" r="3.1" fill="#fbf9fd" stroke="#000000" stroke-width="1.7"/>
<circle cx="831.5" cy="585.4" r="3.1" fill="#fbf9fd" stroke="#0000ff" stroke-width="1.7"/>
<circle cx="821.8" cy="605.6" r="3.1" fill="#fbf9fd" stroke="#000000" stroke-width="1.7"/>
<circle cx="831.2" cy="625" r="3.1" fill="#fbf9fd" stroke="#0000ff" stroke-width="1.7"/>
<circle cx="841" cy="644.6" r="3.1" fill="#fbf9fd" stroke="#0000ff" stroke-width="1.7"/>
<circle cx="878.6" cy="605.4" r="3.1" fill="#fbf9fd" stroke="#d46a00" stroke-width="1.7"/>
<line x1="875.5" y1="603.6" x2="862.03" y2="626.625" stroke="#d46a00" stroke-width="1.7" stroke-linecap="butt"/>
<polygon points="854.50,639.60 868.03,623.86 862.28,626.19 861.01,620.02" fill="#d46a00"/></g>
<g font-family="Liberation Sans, sans-serif" fill="#000" opacity="0.995"><text transform="translate(107.89,50.69) scale(0.959,1)" font-size="21.13" font-weight="bold">SSB ALC</text>
<text transform="translate(9.09,133.86) scale(0.959,1)" font-size="14.08" font-weight="bold">Antenna Out</text>
<text transform="translate(22.64,247.86) scale(0.953,1)" font-size="14.37" font-weight="bold">Power SW</text>
<text transform="translate(32.58,310.86) scale(1.025,1)" font-size="13.51" font-weight="bold">AM Mod.</text>
<text transform="translate(37.76,606.86) scale(0.979,1)" font-size="13.78" font-weight="bold">Final B+</text>
<text transform="translate(613.75,14.77) scale(1.017,1)" font-size="13.38" font-weight="bold">Limiter</text>
<text transform="translate(923.96,155.75) scale(0.943,1)" font-size="14.28" font-weight="bold">Rx B+</text>
<text transform="translate(922.47,220.86) scale(0.937,1)" font-size="14.23" font-weight="bold">+8Vcc</text>
<text transform="translate(923.37,270.06) scale(0.987,1)" font-size="13.51" font-weight="bold">+13.8Vdc</text>
<text transform="translate(107.06,741.70) scale(1.013,1)" font-size="20.27" font-weight="bold">Modulator</text>
<text transform="translate(491.49,547.69) scale(0.966,1)" font-size="21.13" font-weight="bold">AM AMC</text>
<text transform="translate(834.55,725.85) scale(0.893,1)" font-size="15.20" font-weight="bold">Modulator</text>
<text transform="translate(842.60,740.85) scale(0.869,1)" font-size="15.20" font-weight="bold">Alan 87</text>
<text transform="translate(818.58,563.89) scale(0.931,1)" font-size="11.27" font-weight="bold">CW</text>
<text transform="translate(809.15,583.00) scale(1.124,1)" font-size="10.87" font-weight="bold">FM</text>
<text transform="translate(797.64,604.00) scale(0.973,1)" font-size="12.32" font-weight="bold">AM</text>
<text transform="translate(802.83,622.89) scale(0.993,1)" font-size="11.27" font-weight="bold">USB</text>
<text transform="translate(815.26,642.89) scale(0.944,1)" font-size="11.27" font-weight="bold">LSB</text>
<text transform="translate(139.36,124.55) scale(1.020,1)" font-size="15.29" font-family="Liberation Mono, monospace" stroke="#000" stroke-width="0.60">C162</text>
<text transform="translate(133.29,169.56) scale(1.196,1)" font-size="14.05" font-family="Liberation Mono, monospace" stroke="#000" stroke-width="0.60">3P/UJ</text>
<text transform="translate(306.74,78.40) scale(0.978,1)" font-size="16.82" font-family="Liberation Mono, monospace" stroke="#000" stroke-width="0.60">TR47</text>
<text transform="translate(299.21,94.34) scale(0.957,1)" font-size="16.32" font-family="Liberation Mono, monospace" stroke="#000" stroke-width="0.60">2SC1675</text>
<text transform="translate(458.66,116.24) scale(1.052,1)" font-size="15.88" font-family="Liberation Mono, monospace" stroke="#000" stroke-width="0.60">R228</text>
<text transform="translate(504.04,118.43) scale(0.919,1)" font-size="16.62" font-family="Liberation Mono, monospace" stroke="#000" stroke-width="0.60">470</text>
<text transform="translate(458.66,152.85) scale(1.082,1)" font-size="15.44" font-family="Liberation Mono, monospace" stroke="#000" stroke-width="0.60">R229</text>
<text transform="translate(501.15,153.15) scale(0.892,1)" font-size="15.29" font-family="Liberation Mono, monospace" stroke="#000" stroke-width="0.60">18K</text>
<text transform="translate(623.72,39.44) scale(0.982,1)" font-size="16.32" font-family="Liberation Mono, monospace" stroke="#000" stroke-width="0.60">D60</text>
<text transform="translate(660.96,39.44) scale(0.907,1)" font-size="16.32" font-family="Liberation Mono, monospace" stroke="#000" stroke-width="0.60">1N4148</text>
<text transform="translate(365.24,254.35) scale(1.083,1)" font-size="14.85" font-family="Liberation Mono, monospace" stroke="#000" stroke-width="0.60">C212</text>
<text transform="translate(424.83,253.35) scale(1.006,1)" font-size="15.15" font-family="Liberation Mono, monospace" stroke="#000" stroke-width="0.60">104</text>
<text transform="translate(233.95,308.44) scale(1.071,1)" font-size="15.74" font-family="Liberation Mono, monospace" stroke="#000" stroke-width="0.60">R253</text>
<text transform="translate(239.79,340.54) scale(0.927,1)" font-size="15.52" font-family="Liberation Mono, monospace" stroke="#000" stroke-width="0.60">15K</text>
<text transform="translate(215.73,387.44) scale(1.036,1)" font-size="16.47" font-family="Liberation Mono, monospace" stroke="#000" stroke-width="0.60">R238</text>
<text transform="translate(221.53,419.35) scale(1.047,1)" font-size="15.44" font-family="Liberation Mono, monospace" stroke="#000" stroke-width="0.60">5K6</text>
<text transform="translate(586.96,371.05) scale(1.106,1)" font-size="15.15" font-family="Liberation Mono, monospace" stroke="#000" stroke-width="0.60">R248</text>
<text transform="translate(597.00,383.65) scale(1.129,1)" font-size="15.15" font-family="Liberation Mono, monospace" stroke="#000" stroke-width="0.60">8K2</text>
<text transform="translate(149.03,546.45) scale(1.107,1)" font-size="14.56" font-family="Liberation Mono, monospace" stroke="#000" stroke-width="0.60">C189</text>
<text transform="translate(153.80,562.15) scale(1.031,1)" font-size="15.44" font-family="Liberation Mono, monospace" stroke="#000" stroke-width="0.60">473</text>
<text transform="translate(147.93,604.95) scale(1.072,1)" font-size="14.85" font-family="Liberation Mono, monospace" stroke="#000" stroke-width="0.60">R240</text>
<text transform="translate(152.93,636.85) scale(1.062,1)" font-size="15.29" font-family="Liberation Mono, monospace" stroke="#000" stroke-width="0.60">560</text>
<text transform="translate(156.25,660.24) scale(0.863,1)" font-size="16.47" font-family="Liberation Mono, monospace" stroke="#000" stroke-width="0.60">C190</text>
<text transform="translate(193.15,670.90) scale(1.080,1)" font-size="17.76" font-family="Liberation Mono, monospace" stroke="#000" stroke-width="0.60">+</text>
<text transform="translate(158.62,700.04) scale(0.877,1)" font-size="15.88" font-family="Liberation Mono, monospace" stroke="#000" stroke-width="0.60">100u16v</text>
<text transform="translate(276.34,600.54) scale(0.985,1)" font-size="16.32" font-family="Liberation Mono, monospace" stroke="#000" stroke-width="0.60">C192</text>
<text transform="translate(276.31,640.44) scale(0.998,1)" font-size="16.47" font-family="Liberation Mono, monospace" stroke="#000" stroke-width="0.60">M102</text>
<text transform="translate(351.89,530.54) scale(0.970,1)" font-size="15.74" font-family="Liberation Mono, monospace" stroke="#000" stroke-width="0.60">TR50</text>
<text transform="translate(355.28,545.35) scale(1.082,1)" font-size="14.85" font-family="Liberation Mono, monospace" stroke="#000" stroke-width="0.60">2SA</text>
<text transform="translate(352.97,558.75) scale(0.982,1)" font-size="15.00" font-family="Liberation Mono, monospace" stroke="#000" stroke-width="0.60">1869</text>
<text transform="translate(407.33,528.95) scale(0.939,1)" font-size="15.07" font-family="Liberation Mono, monospace" stroke="#000" stroke-width="0.60">TR51</text>
<text transform="translate(408.76,544.34) scale(1.038,1)" font-size="15.74" font-family="Liberation Mono, monospace" stroke="#000" stroke-width="0.60">2SB</text>
<text transform="translate(409.58,560.23) scale(0.989,1)" font-size="16.72" font-family="Liberation Mono, monospace" stroke="#000" stroke-width="0.60">754</text>
<text transform="translate(403.76,600.50) scale(1.030,1)" font-size="16.27" font-family="Liberation Mono, monospace" stroke="#000" stroke-width="0.60">R242</text>
<text transform="translate(414.60,614.24) scale(0.812,1)" font-size="15.88" font-family="Liberation Mono, monospace" stroke="#000" stroke-width="0.60">10K</text>
<text transform="translate(272.64,730.24) scale(1.018,1)" font-size="16.18" font-family="Liberation Mono, monospace" stroke="#000" stroke-width="0.60">TR49</text>
<text transform="translate(264.25,746.35) scale(1.121,1)" font-size="14.71" font-family="Liberation Mono, monospace" stroke="#000" stroke-width="0.60">2SC945</text>
<text transform="translate(603.66,533.04) scale(0.978,1)" font-size="16.32" font-family="Liberation Mono, monospace" stroke="#000" stroke-width="0.60">TR53</text>
<text transform="translate(595.94,548.34) scale(1.024,1)" font-size="16.18" font-family="Liberation Mono, monospace" stroke="#000" stroke-width="0.60">2SC945</text>
<text transform="translate(695.75,532.43) scale(0.975,1)" font-size="16.57" font-family="Liberation Mono, monospace" stroke="#000" stroke-width="0.60">TR54</text>
<text transform="translate(685.91,548.34) scale(1.049,1)" font-size="16.18" font-family="Liberation Mono, monospace" stroke="#000" stroke-width="0.60">2SC945</text>
<text transform="translate(543.74,732.44) scale(1.006,1)" font-size="16.32" font-family="Liberation Mono, monospace" stroke="#000" stroke-width="0.60">TR52</text>
<text transform="translate(532.02,749.44) scale(0.945,1)" font-size="16.32" font-family="Liberation Mono, monospace" stroke="#000" stroke-width="0.60">2SD471</text>
<text transform="translate(674.47,651.05) scale(1.008,1)" font-size="15.29" font-family="Liberation Mono, monospace" stroke="#000" stroke-width="0.60">R251</text>
<text transform="translate(677.59,665.70) scale(1.114,1)" font-size="15.52" font-family="Liberation Mono, monospace" stroke="#000" stroke-width="0.60">2K2</text>
<text transform="translate(875.77,625.45) scale(1.028,1)" font-size="15.29" font-family="Liberation Mono, monospace" stroke="#000" stroke-width="0.60">S502</text>
<text transform="translate(613.25,658.43) scale(0.912,1)" font-size="19.18" font-family="Liberation Mono, monospace" stroke="#000" stroke-width="0.60">+</text>
<text transform="translate(232.63,198.82) rotate(-90) scale(0.918,1)" font-size="16.62" font-family="Liberation Mono, monospace" stroke="#000" stroke-width="0.60">C163</text>
<text transform="translate(247.75,214.42) rotate(-90) scale(0.947,1)" font-size="15.41" font-family="Liberation Mono, monospace" stroke="#000" stroke-width="0.60">100P/CH</text>
<text transform="translate(270.45,213.14) rotate(-90) scale(0.799,1)" font-size="16.34" font-family="Liberation Mono, monospace" stroke="#000" stroke-width="0.60">R214 1K</text>
<text transform="translate(403.90,163.38) rotate(-90) scale(0.953,1)" font-size="16.72" font-family="Liberation Mono, monospace" stroke="#000" stroke-width="0.60">R227</text>
<text transform="translate(437.13,156.73) rotate(-90) scale(0.889,1)" font-size="16.57" font-family="Liberation Mono, monospace" stroke="#000" stroke-width="0.60">1K5</text>
<text transform="translate(442.00,206.86) rotate(-90) scale(0.950,1)" font-size="17.01" font-family="Liberation Mono, monospace" stroke="#000" stroke-width="0.60">VR12</text>
<text transform="translate(453.54,204.68) rotate(-90) scale(0.861,1)" font-size="16.32" font-family="Liberation Mono, monospace" stroke="#000" stroke-width="0.60">10KB</text>
<text transform="translate(549.74,98.65) rotate(-90) scale(1.028,1)" font-size="16.47" font-family="Liberation Mono, monospace" stroke="#000" stroke-width="0.60">D83</text>
<text transform="translate(565.55,105.93) rotate(-90) scale(0.949,1)" font-size="15.44" font-family="Liberation Mono, monospace" stroke="#000" stroke-width="0.60">1N60P</text>
<text transform="translate(629.45,104.68) rotate(-90) scale(0.945,1)" font-size="15.44" font-family="Liberation Mono, monospace" stroke="#000" stroke-width="0.60">C144</text>
<text transform="translate(645.25,100.64) rotate(-90) scale(0.923,1)" font-size="14.56" font-family="Liberation Mono, monospace" stroke="#000" stroke-width="0.60">102</text>
<text transform="translate(148.29,369.77) rotate(-90) scale(1.005,1)" font-size="16.40" font-family="Liberation Mono, monospace" stroke="#000" stroke-width="0.60">R237</text>
<text transform="translate(177.25,363.09) rotate(-90) scale(0.834,1)" font-size="15.29" font-family="Liberation Mono, monospace" stroke="#000" stroke-width="0.60">100</text>
<text transform="translate(148.29,440.45) rotate(-90) scale(0.934,1)" font-size="16.40" font-family="Liberation Mono, monospace" stroke="#000" stroke-width="0.60">VR13 5K</text>
<text transform="translate(278.55,375.36) rotate(-90) scale(0.927,1)" font-size="15.44" font-family="Liberation Mono, monospace" stroke="#000" stroke-width="0.60">C19</text>
<text transform="translate(318.83,377.14) rotate(-90) scale(0.945,1)" font-size="16.62" font-family="Liberation Mono, monospace" stroke="#000" stroke-width="0.60">M473</text>
<text transform="translate(283.54,463.17) rotate(-90) scale(1.036,1)" font-size="16.47" font-family="Liberation Mono, monospace" stroke="#000" stroke-width="0.60">R239</text>
<text transform="translate(315.74,458.55) rotate(-90) scale(0.963,1)" font-size="16.47" font-family="Liberation Mono, monospace" stroke="#000" stroke-width="0.60">5K6</text>
<text transform="translate(517.53,423.47) rotate(-90) scale(0.954,1)" font-size="16.62" font-family="Liberation Mono, monospace" stroke="#000" stroke-width="0.60">R245 3K3</text>
<text transform="translate(518.83,498.72) rotate(-90) scale(0.838,1)" font-size="16.76" font-family="Liberation Mono, monospace" stroke="#000" stroke-width="0.60">R246 1K5</text>
<text transform="translate(537.70,487.00) rotate(-90) scale(1.057,1)" font-size="15.37" font-family="Liberation Mono, monospace" stroke="#000" stroke-width="0.60">R247</text>
<text transform="translate(573.53,482.42) rotate(-90) scale(0.786,1)" font-size="16.76" font-family="Liberation Mono, monospace" stroke="#000" stroke-width="0.60">100K</text>
<text transform="translate(660.12,396.93) rotate(-90) scale(0.944,1)" font-size="17.65" font-family="Liberation Mono, monospace" stroke="#000" stroke-width="0.60">R249</text>
<text transform="translate(676.74,381.83) rotate(-90) scale(0.774,1)" font-size="16.32" font-family="Liberation Mono, monospace" stroke="#000" stroke-width="0.60">10K</text>
<text transform="translate(623.05,449.59) rotate(-90) scale(1.089,1)" font-size="14.85" font-family="Liberation Mono, monospace" stroke="#000" stroke-width="0.60">D92</text>
<text transform="translate(665.02,452.93) rotate(-90) scale(0.826,1)" font-size="17.79" font-family="Liberation Mono, monospace" stroke="#000" stroke-width="0.60">4148</text>
<text transform="translate(620.30,496.35) rotate(-90) scale(0.902,1)" font-size="16.82" font-family="Liberation Mono, monospace" stroke="#000" stroke-width="0.60">VR14</text>
<text transform="translate(661.30,491.33) rotate(-90) scale(0.800,1)" font-size="18.33" font-family="Liberation Mono, monospace" stroke="#000" stroke-width="0.60">1KB</text>
<text transform="translate(741.22,477.22) rotate(-90) scale(0.841,1)" font-size="18.09" font-family="Liberation Mono, monospace" stroke="#000" stroke-width="0.60">R250 3K3</text>
<text transform="translate(251.90,665.72) rotate(-90) scale(0.878,1)" font-size="17.31" font-family="Liberation Mono, monospace" stroke="#000" stroke-width="0.60">R241</text>
<text transform="translate(213.14,659.28) rotate(-90) scale(0.783,1)" font-size="16.12" font-family="Liberation Mono, monospace" stroke="#000" stroke-width="0.60">15</text>
<text transform="translate(331.73,657.75) rotate(-90) scale(0.835,1)" font-size="17.21" font-family="Liberation Mono, monospace" stroke="#000" stroke-width="0.60">D91</text>
<text transform="translate(368.63,679.62) rotate(-90) scale(0.847,1)" font-size="17.21" font-family="Liberation Mono, monospace" stroke="#000" stroke-width="0.60">1N4148</text>
<text transform="translate(544.75,699.99) rotate(-90) scale(0.976,1)" font-size="15.29" font-family="Liberation Mono, monospace" stroke="#000" stroke-width="0.60">R243 47</text>
<text transform="translate(608.94,695.72) rotate(-90) scale(0.901,1)" font-size="16.18" font-family="Liberation Mono, monospace" stroke="#000" stroke-width="0.60">2.2u50v</text>
<text transform="translate(653.44,683.30) rotate(-90) scale(0.930,1)" font-size="16.18" font-family="Liberation Mono, monospace" stroke="#000" stroke-width="0.60">C193</text></g>
</svg></body></html>
